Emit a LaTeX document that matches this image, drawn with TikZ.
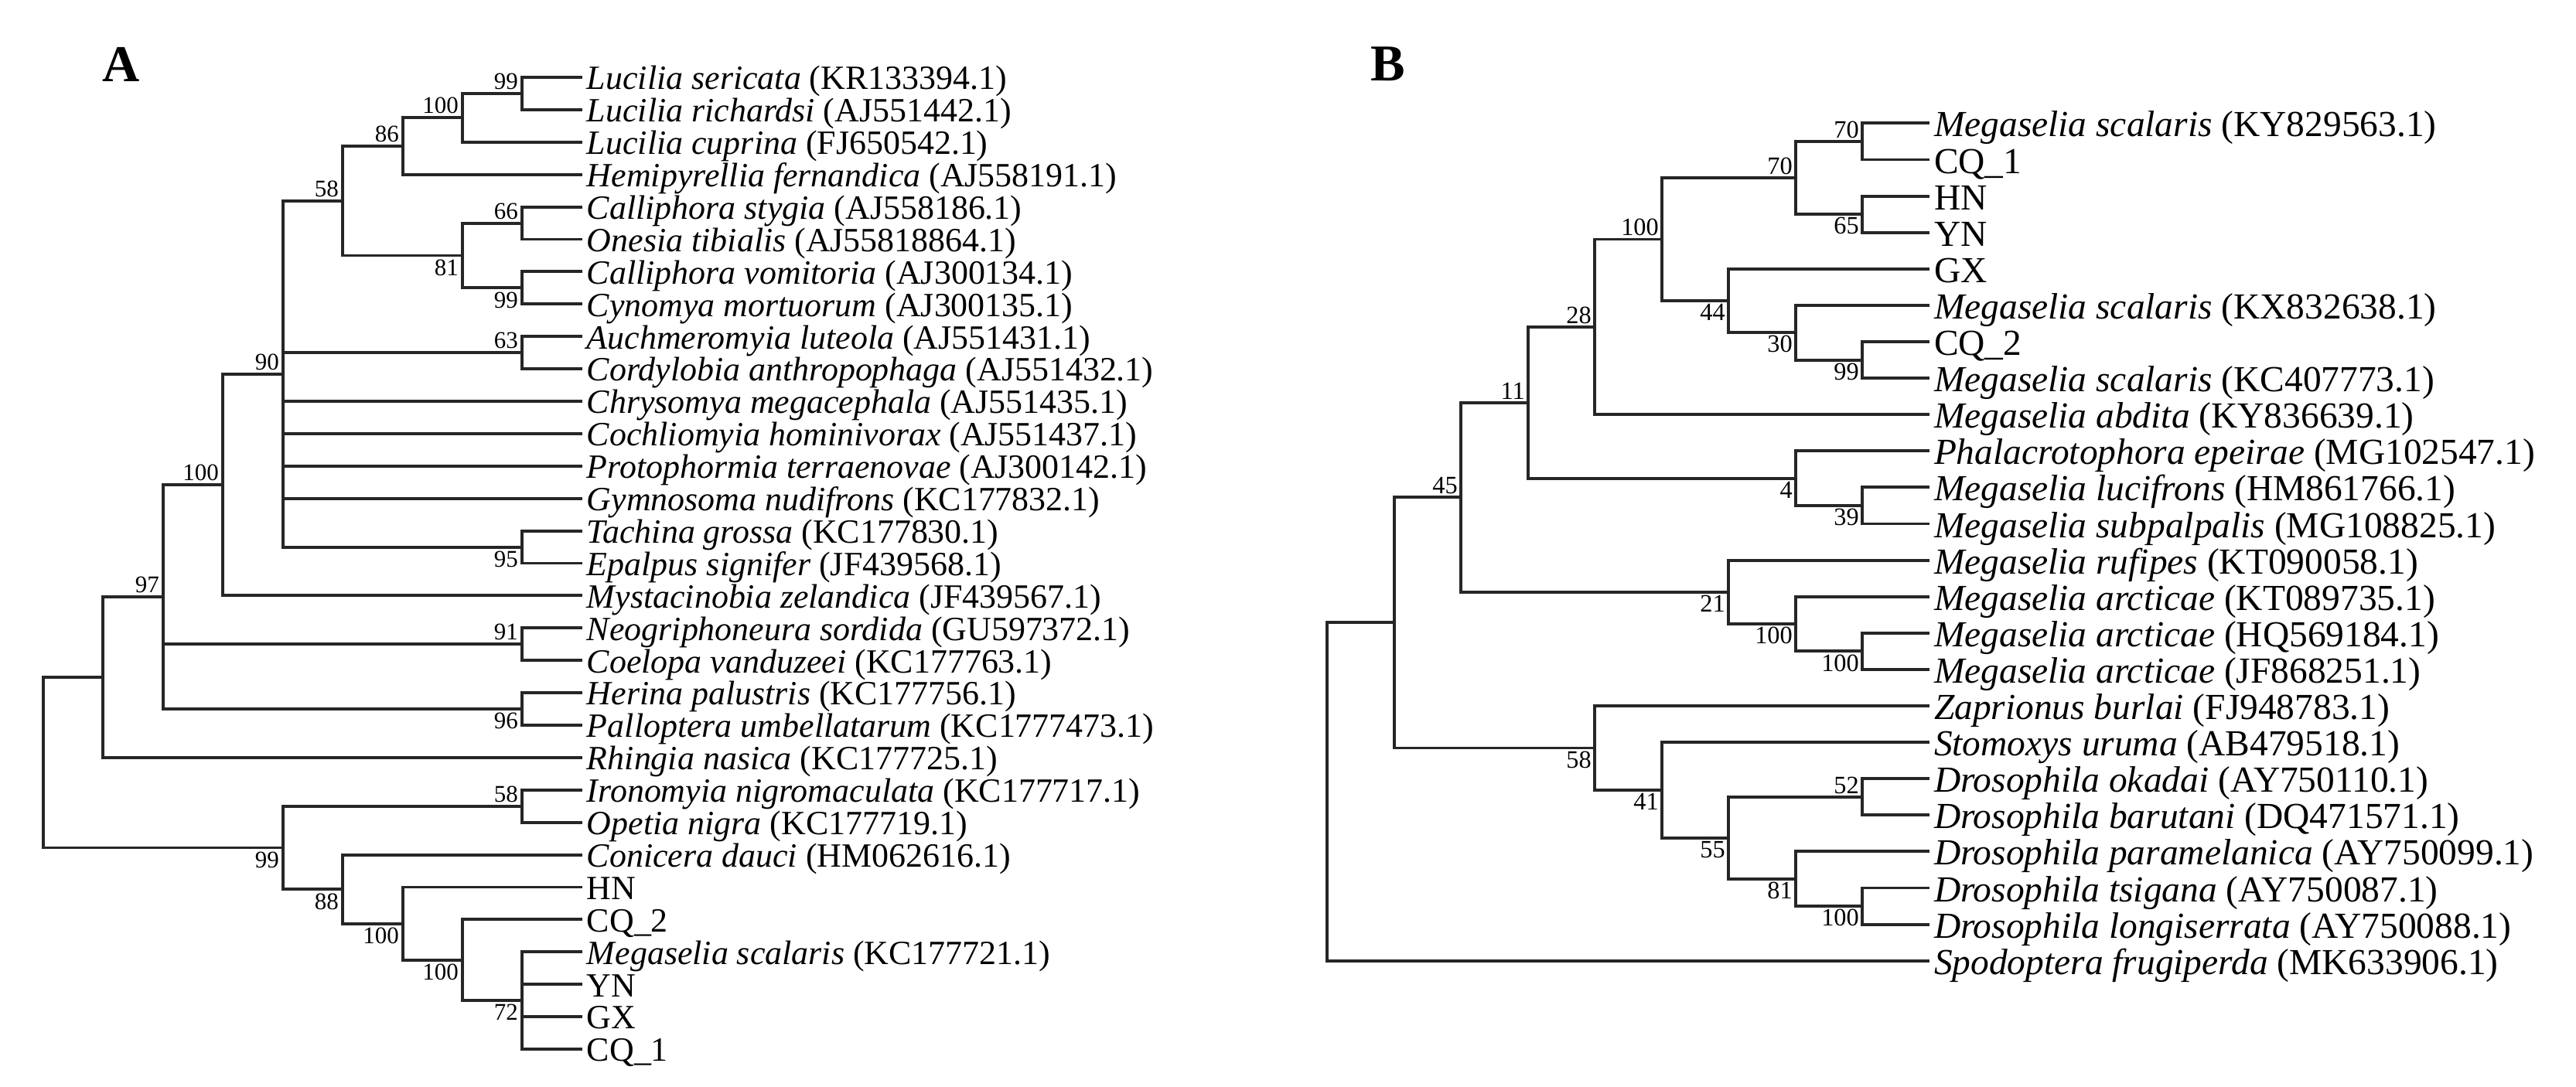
\documentclass[tikz,border=0pt]{standalone}
\usepackage{fontspec}
\setmainfont{Liberation Serif}
\begin{document}
\begin{tikzpicture}[
    branch/.style={
        line width=1.1pt,
        black!85
    },
    taxonA/.style={
        anchor=west,
        inner xsep=1.5pt,
        inner ysep=0pt,
        text height=10.5pt,
        text depth=1.5pt,
        font=\fontsize{12.5}{14}\selectfont
    },
    taxonB/.style={
        anchor=west,
        inner xsep=1.5pt,
        inner ysep=0pt,
        text height=11.5pt,
        text depth=1.5pt,
        font=\fontsize{13.5}{15}\selectfont
    },
    upA/.style={anchor=south east, inner sep=1.3pt, font=\fontsize{8.8}{9}\selectfont},
    downA/.style={anchor=north east, inner sep=1.3pt, font=\fontsize{8.8}{9}\selectfont},
    upB/.style={anchor=south east, inner sep=1pt, font=\fontsize{9.2}{10}\selectfont},
    downB/.style={anchor=north east, inner sep=1pt, font=\fontsize{9.2}{10}\selectfont},
    panel/.style={font=\fontsize{19}{22}\selectfont\bfseries}
]
\useasboundingbox (0,0) rectangle (33.31,-14.05);

% Panel letters
\node[panel] (panA) at (1.57,-0.83) {A};
\node[panel] (panB) at (17.95,-0.83) {B};

% ---------------- Tree A: taxa
\node[taxonA] (A0) at (7.53,-1.000) {\textit{Lucilia sericata} (KR133394.1)};
\node[taxonA] (A1) at (7.53,-1.419) {\textit{Lucilia richardsi} (AJ551442.1)};
\node[taxonA] (A2) at (7.53,-1.838) {\textit{Lucilia cuprina} (FJ650542.1)};
\node[taxonA] (A3) at (7.53,-2.257) {\textit{Hemipyrellia fernandica} (AJ558191.1)};
\node[taxonA] (A4) at (7.53,-2.676) {\textit{Calliphora stygia} (AJ558186.1)};
\node[taxonA] (A5) at (7.53,-3.095) {\textit{Onesia tibialis} (AJ55818864.1)};
\node[taxonA] (A6) at (7.53,-3.514) {\textit{Calliphora vomitoria} (AJ300134.1)};
\node[taxonA] (A7) at (7.53,-3.933) {\textit{Cynomya mortuorum} (AJ300135.1)};
\node[taxonA] (A8) at (7.53,-4.352) {\textit{Auchmeromyia luteola} (AJ551431.1)};
\node[taxonA] (A9) at (7.53,-4.771) {\textit{Cordylobia anthropophaga} (AJ551432.1)};
\node[taxonA] (A10) at (7.53,-5.190) {\textit{Chrysomya megacephala} (AJ551435.1)};
\node[taxonA] (A11) at (7.53,-5.609) {\textit{Cochliomyia hominivorax} (AJ551437.1)};
\node[taxonA] (A12) at (7.53,-6.028) {\textit{Protophormia terraenovae} (AJ300142.1)};
\node[taxonA] (A13) at (7.53,-6.447) {\textit{Gymnosoma nudifrons} (KC177832.1)};
\node[taxonA] (A14) at (7.53,-6.866) {\textit{Tachina grossa} (KC177830.1)};
\node[taxonA] (A15) at (7.53,-7.285) {\textit{Epalpus signifer} (JF439568.1)};
\node[taxonA] (A16) at (7.53,-7.704) {\textit{Mystacinobia zelandica} (JF439567.1)};
\node[taxonA] (A17) at (7.53,-8.123) {\textit{Neogriphoneura sordida} (GU597372.1)};
\node[taxonA] (A18) at (7.53,-8.542) {\textit{Coelopa vanduzeei} (KC177763.1)};
\node[taxonA] (A19) at (7.53,-8.961) {\textit{Herina palustris} (KC177756.1)};
\node[taxonA] (A20) at (7.53,-9.380) {\textit{Palloptera umbellatarum} (KC1777473.1)};
\node[taxonA] (A21) at (7.53,-9.799) {\textit{Rhingia nasica} (KC177725.1)};
\node[taxonA] (A22) at (7.53,-10.218) {\textit{Ironomyia nigromaculata} (KC177717.1)};
\node[taxonA] (A23) at (7.53,-10.637) {\textit{Opetia nigra} (KC177719.1)};
\node[taxonA] (A24) at (7.53,-11.056) {\textit{Conicera dauci} (HM062616.1)};
\node[taxonA] (A25) at (7.53,-11.475) {HN};
\node[taxonA] (A26) at (7.53,-11.894) {CQ\_2};
\node[taxonA] (A27) at (7.53,-12.313) {\textit{Megaselia scalaris} (KC177721.1)};
\node[taxonA] (A28) at (7.53,-12.732) {YN};
\node[taxonA] (A29) at (7.53,-13.151) {GX};
\node[taxonA] (A30) at (7.53,-13.570) {CQ\_1};

% Tree A: internal nodes
\coordinate (nA1) at (6.75,-1.210);
\coordinate (nA2) at (5.98,-1.524);
\coordinate (nA3) at (5.21,-1.890);
\coordinate (nA4) at (4.43,-2.598);
\coordinate (nA5) at (5.98,-3.305);
\coordinate (nA6) at (6.75,-2.886);
\coordinate (nA7) at (6.75,-3.724);
\coordinate (nA8) at (6.75,-4.562);
\coordinate (nA9) at (6.75,-7.076);
\coordinate (nA10) at (3.66,-4.837);
\coordinate (nA11) at (2.88,-6.271);
\coordinate (nA12) at (6.75,-8.333);
\coordinate (nA13) at (6.75,-9.171);
\coordinate (nA14) at (2.11,-7.721);
\coordinate (nA15) at (1.33,-8.760);
\coordinate (nB1) at (6.75,-10.428);
\coordinate (nB2) at (6.75,-12.942);
\coordinate (nB3) at (5.98,-12.418);
\coordinate (nB4) at (5.21,-11.947);
\coordinate (nB5) at (4.43,-11.502);
\coordinate (nB6) at (3.66,-10.965);
\coordinate (rootA) at (0.56,-9.863);

% Tree A: branches
\draw[branch] (nA1) |- (A0.west) (nA1) |- (A1.west);
\draw[branch] (nA2) |- (nA1) (nA2) |- (A2.west);
\draw[branch] (nA3) |- (nA2) (nA3) |- (A3.west);
\draw[branch] (nA6) |- (A4.west) (nA6) |- (A5.west);
\draw[branch] (nA7) |- (A6.west) (nA7) |- (A7.west);
\draw[branch] (nA5) |- (nA6) (nA5) |- (nA7);
\draw[branch] (nA4) |- (nA3) (nA4) |- (nA5);
\draw[branch] (nA8) |- (A8.west) (nA8) |- (A9.west);
\draw[branch] (nA9) |- (A14.west) (nA9) |- (A15.west);
\draw[branch] (nA10) |- (nA4) (nA10) |- (nA8) (nA10) |- (A10.west) (nA10) |- (A11.west)
    (nA10) |- (A12.west) (nA10) |- (A13.west) (nA10) |- (nA9);
\draw[branch] (nA11) |- (nA10) (nA11) |- (A16.west);
\draw[branch] (nA12) |- (A17.west) (nA12) |- (A18.west);
\draw[branch] (nA13) |- (A19.west) (nA13) |- (A20.west);
\draw[branch] (nA14) |- (nA11) (nA14) |- (nA12) (nA14) |- (nA13);
\draw[branch] (nA15) |- (nA14) (nA15) |- (A21.west);
\draw[branch] (nB1) |- (A22.west) (nB1) |- (A23.west);
\draw[branch] (nB2) |- (A27.west) (nB2) |- (A28.west) (nB2) |- (A29.west) (nB2) |- (A30.west);
\draw[branch] (nB3) |- (A26.west) (nB3) |- (nB2);
\draw[branch] (nB4) |- (A25.west) (nB4) |- (nB3);
\draw[branch] (nB5) |- (A24.west) (nB5) |- (nB4);
\draw[branch] (nB6) |- (nB1) (nB6) |- (nB5);
\draw[branch] (rootA) |- (nA15) (rootA) |- (nB6);

% Tree A: bootstrap values
\node[upA] (bA1) at (nA1) {99};
\node[upA] (bA2) at (nA2) {100};
\node[upA] (bA3) at (nA3) {86};
\node[upA] (bA4) at (nA4) {58};
\node[downA] (bA5) at (nA5) {81};
\node[upA] (bA6) at (nA6) {66};
\node[downA] (bA7) at (nA7) {99};
\node[upA] (bA8) at (nA8) {63};
\node[downA] (bA9) at (nA9) {95};
\node[upA] (bA10) at (nA10) {90};
\node[upA] (bA11) at (nA11) {100};
\node[upA] (bA12) at (nA12) {91};
\node[downA] (bA13) at (nA13) {96};
\node[upA] (bA14) at (nA14) {97};
\node[upA] (bB1) at (nB1) {58};
\node[downA] (bB2) at (nB2) {72};
\node[downA] (bB3) at (nB3) {100};
\node[downA] (bB4) at (nB4) {100};
\node[downA] (bB5) at (nB5) {88};
\node[downA] (bB6) at (nB6) {99};

% ---------------- Tree B: taxa
\node[taxonB] (B0) at (24.95,-1.594) {\textit{Megaselia scalaris} (KY829563.1)};
\node[taxonB] (B1) at (24.95,-2.065) {CQ\_1};
\node[taxonB] (B2) at (24.95,-2.536) {HN};
\node[taxonB] (B3) at (24.95,-3.007) {YN};
\node[taxonB] (B4) at (24.95,-3.478) {GX};
\node[taxonB] (B5) at (24.95,-3.949) {\textit{Megaselia scalaris} (KX832638.1)};
\node[taxonB] (B6) at (24.95,-4.420) {CQ\_2};
\node[taxonB] (B7) at (24.95,-4.891) {\textit{Megaselia scalaris} (KC407773.1)};
\node[taxonB] (B8) at (24.95,-5.362) {\textit{Megaselia abdita} (KY836639.1)};
\node[taxonB] (B9) at (24.95,-5.833) {\textit{Phalacrotophora epeirae} (MG102547.1)};
\node[taxonB] (B10) at (24.95,-6.304) {\textit{Megaselia lucifrons} (HM861766.1)};
\node[taxonB] (B11) at (24.95,-6.775) {\textit{Megaselia subpalpalis} (MG108825.1)};
\node[taxonB] (B12) at (24.95,-7.246) {\textit{Megaselia rufipes} (KT090058.1)};
\node[taxonB] (B13) at (24.95,-7.717) {\textit{Megaselia arcticae} (KT089735.1)};
\node[taxonB] (B14) at (24.95,-8.188) {\textit{Megaselia arcticae} (HQ569184.1)};
\node[taxonB] (B15) at (24.95,-8.659) {\textit{Megaselia arcticae} (JF868251.1)};
\node[taxonB] (B16) at (24.95,-9.130) {\textit{Zaprionus burlai} (FJ948783.1)};
\node[taxonB] (B17) at (24.95,-9.601) {\textit{Stomoxys uruma} (AB479518.1)};
\node[taxonB] (B18) at (24.95,-10.072) {\textit{Drosophila okadai} (AY750110.1)};
\node[taxonB] (B19) at (24.95,-10.543) {\textit{Drosophila barutani} (DQ471571.1)};
\node[taxonB] (B20) at (24.95,-11.014) {\textit{Drosophila paramelanica} (AY750099.1)};
\node[taxonB] (B21) at (24.95,-11.485) {\textit{Drosophila tsigana} (AY750087.1)};
\node[taxonB] (B22) at (24.95,-11.956) {\textit{Drosophila longiserrata} (AY750088.1)};
\node[taxonB] (B23) at (24.95,-12.427) {\textit{Spodoptera frugiperda} (MK633906.1)};

% Tree B: internal nodes
\coordinate (mC1) at (24.08,-1.830);
\coordinate (mC2) at (24.08,-2.772);
\coordinate (mC3) at (23.22,-2.301);
\coordinate (mC4) at (22.35,-3.890);
\coordinate (mC5) at (23.22,-4.302);
\coordinate (mC6) at (24.08,-4.656);
\coordinate (mC7) at (21.49,-3.095);
\coordinate (mC8) at (20.62,-4.229);
\coordinate (mC9) at (24.08,-6.540);
\coordinate (mC10) at (23.22,-6.186);
\coordinate (mC11) at (19.76,-5.207);
\coordinate (mC12) at (24.08,-8.424);
\coordinate (mC13) at (23.22,-8.070);
\coordinate (mC14) at (22.35,-7.658);
\coordinate (mC15) at (18.89,-6.433);
\coordinate (mC16) at (18.03,-8.054);
\coordinate (mD1) at (24.08,-11.721);
\coordinate (mD2) at (23.22,-11.367);
\coordinate (mD3) at (24.08,-10.308);
\coordinate (mD4) at (22.35,-10.837);
\coordinate (mD5) at (21.49,-10.219);
\coordinate (mD6) at (20.62,-9.675);
\coordinate (rootB) at (17.16,-10.240);

% Tree B: branches
\draw[branch] (mC1) |- (B0.west) (mC1) |- (B1.west);
\draw[branch] (mC2) |- (B2.west) (mC2) |- (B3.west);
\draw[branch] (mC3) |- (mC1) (mC3) |- (mC2);
\draw[branch] (mC6) |- (B6.west) (mC6) |- (B7.west);
\draw[branch] (mC5) |- (B5.west) (mC5) |- (mC6);
\draw[branch] (mC4) |- (B4.west) (mC4) |- (mC5);
\draw[branch] (mC7) |- (mC3) (mC7) |- (mC4);
\draw[branch] (mC8) |- (mC7) (mC8) |- (B8.west);
\draw[branch] (mC9) |- (B10.west) (mC9) |- (B11.west);
\draw[branch] (mC10) |- (B9.west) (mC10) |- (mC9);
\draw[branch] (mC11) |- (mC8) (mC11) |- (mC10);
\draw[branch] (mC12) |- (B14.west) (mC12) |- (B15.west);
\draw[branch] (mC13) |- (B13.west) (mC13) |- (mC12);
\draw[branch] (mC14) |- (B12.west) (mC14) |- (mC13);
\draw[branch] (mC15) |- (mC11) (mC15) |- (mC14);
\draw[branch] (mD1) |- (B21.west) (mD1) |- (B22.west);
\draw[branch] (mD2) |- (B20.west) (mD2) |- (mD1);
\draw[branch] (mD3) |- (B18.west) (mD3) |- (B19.west);
\draw[branch] (mD4) |- (mD3) (mD4) |- (mD2);
\draw[branch] (mD5) |- (B17.west) (mD5) |- (mD4);
\draw[branch] (mD6) |- (B16.west) (mD6) |- (mD5);
\draw[branch] (mC16) |- (mC15) (mC16) |- (mD6);
\draw[branch] (rootB) |- (mC16) (rootB) |- (B23.west);

% Tree B: bootstrap values
\node[upB] (bC1) at (mC1) {70};
\node[downB] (bC2) at (mC2) {65};
\node[upB] (bC3) at (mC3) {70};
\node[downB] (bC4) at (mC4) {44};
\node[downB] (bC5) at (mC5) {30};
\node[downB] (bC6) at (mC6) {99};
\node[upB] (bC7) at (mC7) {100};
\node[upB] (bC8) at (mC8) {28};
\node[downB] (bC9) at (mC9) {39};
\node[downB] (bC10) at (mC10) {4};
\node[upB] (bC11) at (mC11) {11};
\node[downB] (bC12) at (mC12) {100};
\node[downB] (bC13) at (mC13) {100};
\node[downB] (bC14) at (mC14) {21};
\node[upB] (bC15) at (mC15) {45};
\node[downB] (bD1) at (mD1) {100};
\node[downB] (bD2) at (mD2) {81};
\node[upB] (bD3) at (mD3) {52};
\node[downB] (bD4) at (mD4) {55};
\node[downB] (bD5) at (mD5) {41};
\node[downB] (bD6) at (mD6) {58};

\end{tikzpicture}
\end{document}
